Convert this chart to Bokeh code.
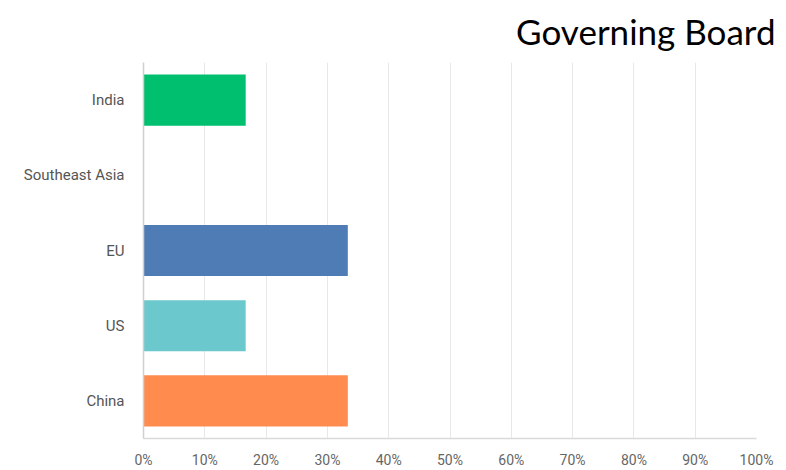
from bokeh.plotting import figure
from bokeh.models import FactorRange, Range1d, FixedTicker, NumeralTickFormatter, ColumnDataSource
from bokeh.embed import file_html
from bokeh.resources import INLINE

# Data (top to bottom as shown)
categories = ["India", "Southeast Asia", "EU", "US", "China"]
percent_values = [16.67, 0.0, 33.33, 16.67, 33.33]
bar_colors = ["#00BF6F", "#FFFFFF", "#507CB6", "#6BC8CD", "#FF8B4F"]
x_ticks = [0, 10, 20, 30, 40, 50, 60, 70, 80, 90, 100]
title_text = "Governing Board"

source = ColumnDataSource(dict(
    cat=categories,
    val=[v / 100.0 for v in percent_values],
    color=bar_colors,
))

p = figure(
    width=786, height=470,
    y_range=FactorRange(factors=list(reversed(categories)), range_padding=0),
    x_range=Range1d(0, 1),
    output_backend="svg", toolbar_location=None,
    min_border_left=143, min_border_right=30, min_border_top=61, min_border_bottom=32,
    title=title_text,
)
p.outline_line_color = None
p.background_fill_color = "white"
p.border_fill_color = "white"

# title at top right
p.title.align = "right"
p.title.offset = -19
p.title.standoff = 18
p.title.vertical_align = "top"
p.title.text_line_height = 0.6
p.title.text_font = "Lato"
p.title.text_font_size = "35px"
p.title.text_font_style = "normal"
p.title.text_color = "#000000"

p.hbar(y="cat", right="val", left=0, height=0.68, color="color", line_color=None, source=source)

# x axis
p.xaxis.ticker = FixedTicker(ticks=[t / 100.0 for t in x_ticks])
p.xaxis.formatter = NumeralTickFormatter(format="0%")
p.xaxis.axis_line_color = "#d9d9d9"
p.xaxis.axis_line_width = 1.5
p.xaxis.major_tick_line_color = None
p.xaxis.minor_tick_line_color = None
p.xaxis.major_label_text_font = "Roboto"
p.xaxis.major_label_text_font_size = "14px"
p.xaxis.major_label_text_color = "#666666"
p.xaxis.major_label_standoff = 7

# y axis
p.yaxis.axis_line_color = "#d0d0d0"
p.yaxis.axis_line_width = 1.5
p.yaxis.major_tick_line_color = None
p.yaxis.minor_tick_line_color = None
p.yaxis.major_label_text_font = "Roboto"
p.yaxis.major_label_text_font_size = "15px"
p.yaxis.major_label_text_color = "#555555"
p.yaxis.major_label_standoff = 13

# grid
p.xgrid.grid_line_color = "#e8e8e8"
p.xgrid.grid_line_width = 1
p.ygrid.grid_line_color = None

open("out.html", "w").write(file_html(p, INLINE))
